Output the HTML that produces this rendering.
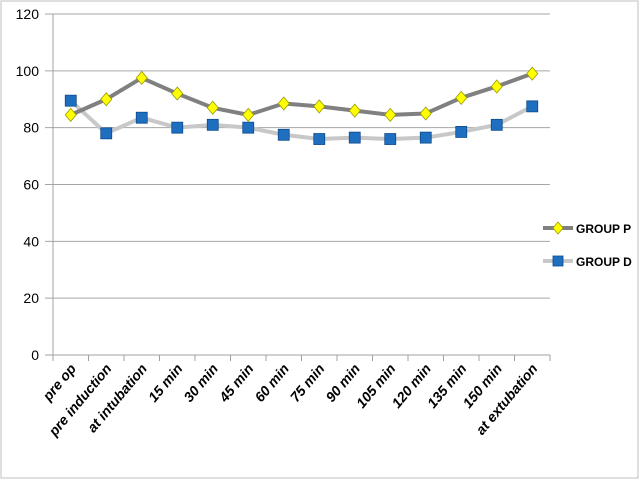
<!DOCTYPE html>
<html><head><meta charset="utf-8"><style>
html,body{margin:0;padding:0;background:#fff}
svg{display:block;font-family:"Liberation Sans",sans-serif}
</style></head><body>
<svg id="c" width="640" height="480">
<rect x="1" y="1" width="637" height="477" fill="#fff" stroke="#bfbfbf"/>
<g id="grid"></g><g id="axes"></g><g id="series"></g>
<g>
<g>
<line x1="543" y1="228" x2="573" y2="228" stroke="#808080" stroke-width="4"/>
<polygon points="558,222 563,228 558,234 553,228" fill="#ffff00" stroke="#999900" stroke-width="0.8"/>
<text x="576" y="233" font-size="12" font-weight="bold" fill="#000">GROUP P</text></g>
<g>
<line x1="543" y1="261" x2="573" y2="261" stroke="#c8c8c8" stroke-width="4"/>
<rect x="553" y="256" width="10" height="10" fill="#1f6fc0" stroke="#0d4a8a" stroke-width="0.8"/>
<text x="576" y="266" font-size="12" font-weight="bold" fill="#000">GROUP D</text></g>
</g>
</svg>
<script>
const categories=["pre op","pre induction","at intubation","15 min","30 min","45 min","60 min","75 min","90 min","105 min","120 min","135 min","150 min","at extubation"];
const groupP=[84.5,90,97.5,92,87,84.5,88.5,87.5,86,84.5,85,90.5,94.5,99];
const groupD=[89.5,78,83.5,80,81,80,77.5,76,76.5,76,76.5,78.5,81,87.5];
const yTicks=[0,20,40,60,80,100,120];
const NS="http://www.w3.org/2000/svg";
const L=53,R=550,T=14,B=355,yMax=120;
const bw=(R-L)/categories.length;
const x=i=>L+bw*(i+0.5);
const y=v=>B-(v/yMax)*(B-T);
function mk(t,a,p){const e=document.createElementNS(NS,t);for(const k in a)e.setAttribute(k,a[k]);p.appendChild(e);return e;}
const grid=document.getElementById('grid'),axes=document.getElementById('axes'),ser=document.getElementById('series');
yTicks.forEach(v=>{
 const g=mk('line',{x1:L-8,x2:R,y1:y(v),y2:y(v),stroke:v===0?'#a0a0a0':'#a6a6a6','stroke-width':1},grid);
 
 
 const t=mk('text',{x:L-14,y:y(v)+5,'text-anchor':'end','font-size':14,fill:'#000'},axes);
 t.textContent=v;
 
 
});
const ya=mk('line',{x1:L,x2:L,y1:T,y2:B,stroke:'#a0a0a0'},axes);


for(let i=0;i<=categories.length;i++){
 const tk=mk('line',{x1:L+bw*i,x2:L+bw*i,y1:B,y2:B+6,stroke:'#a0a0a0'},axes);
 
 
}
categories.forEach((c,i)=>{
 const t=mk('text',{x:0,y:0,'text-anchor':'end','font-size':14,'font-weight':'bold','font-style':'italic',fill:'#000',transform:`translate(${x(i)+6},${B+14}) rotate(-50)`},axes);
 t.textContent=c;
 
 
});
function line(vals,col,name){
 const p=mk('polyline',{points:vals.map((v,i)=>x(i)+','+y(v)).join(' '),fill:'none',stroke:col,'stroke-width':4,'stroke-linejoin':'round'},ser);
 
 
}
line(groupD,'#c8c8c8','group-d');
line(groupP,'#808080','group-p');
groupD.forEach((v,i)=>{
 const r=mk('rect',{x:x(i)-5.5,y:y(v)-5.5,width:11,height:11,fill:'#1f6fc0',stroke:'#0d4a8a','stroke-width':0.8},ser);
 
 
});
groupP.forEach((v,i)=>{
 const cx=x(i),cy=y(v);
 const d=mk('polygon',{points:`${cx},${cy-6.5} ${cx+5.5},${cy} ${cx},${cy+6.5} ${cx-5.5},${cy}`,fill:'#ffff00',stroke:'#999900','stroke-width':0.8},ser);
 
 
});
</script>
</body></html>
